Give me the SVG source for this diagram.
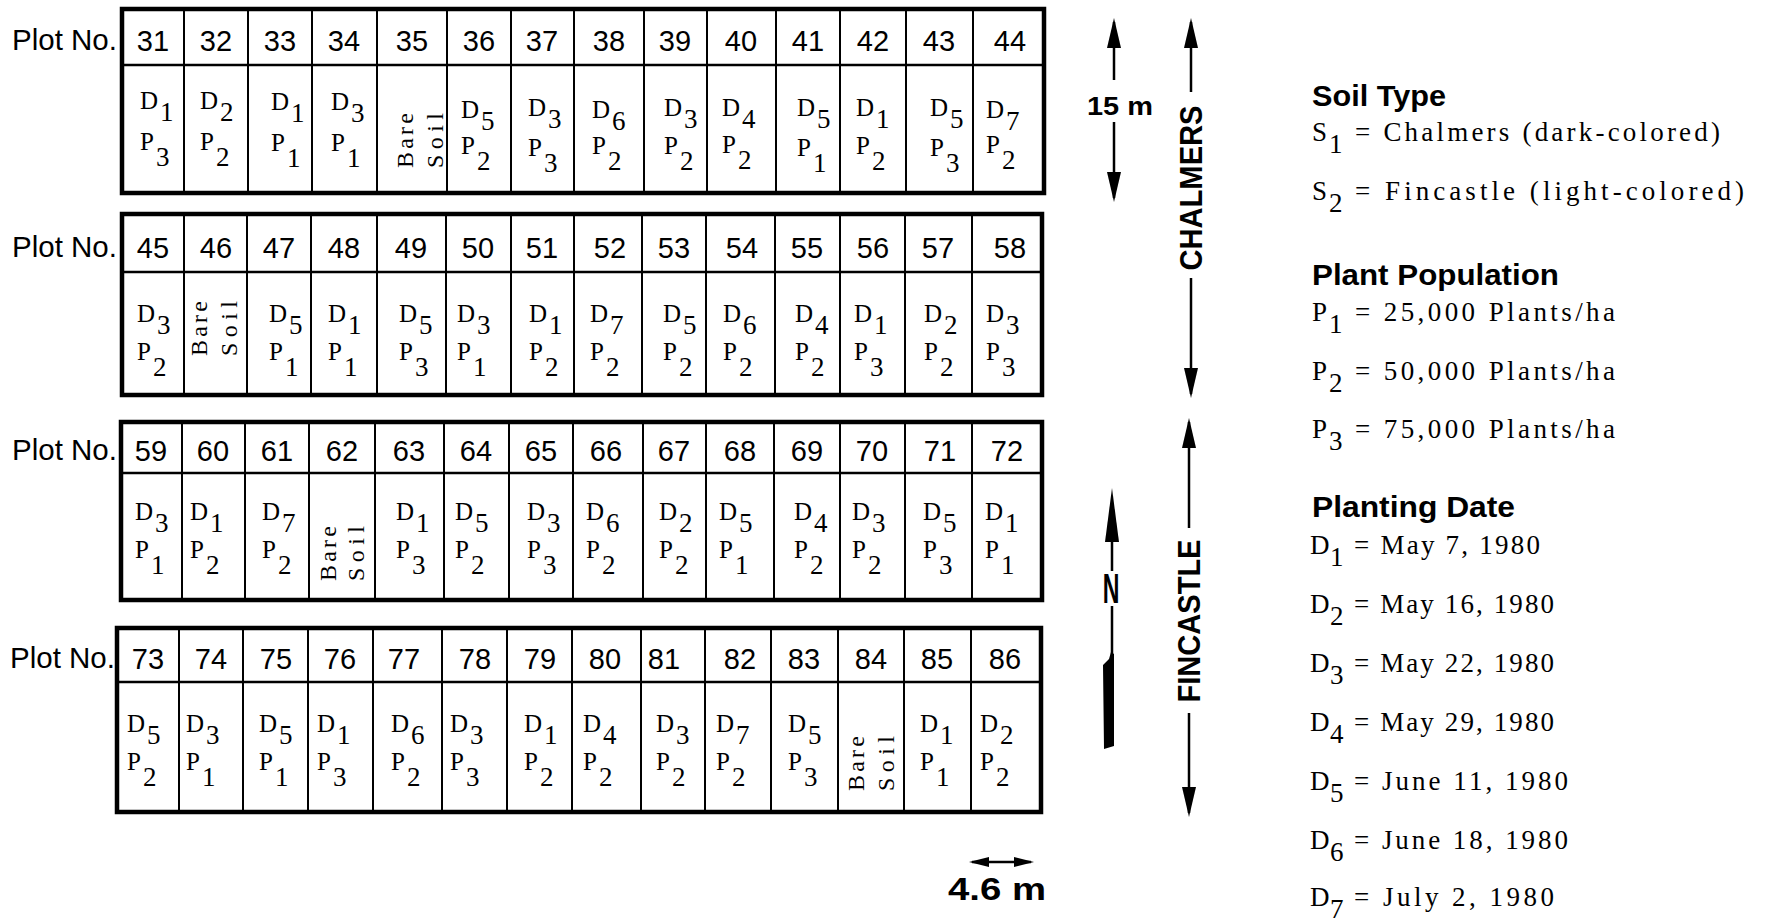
<svg xmlns="http://www.w3.org/2000/svg" width="1765" height="921" viewBox="0 0 1765 921">
<style>
.frame{fill:none;stroke:#000;stroke-width:4.5}
.hdiv{stroke:#000;stroke-width:2.5}
.vdiv{stroke:#000;stroke-width:2}
.num{font-family:"Liberation Sans",Arial,sans-serif;font-size:29px;text-anchor:middle;fill:#000}
.lbl{font-family:"Liberation Sans",Arial,sans-serif;font-size:29px;fill:#000}
.ct{font-family:"Liberation Serif","Times New Roman",serif;font-size:25px;fill:#000}
.sb{font-size:27px}
.bs{font-family:"Liberation Serif","Times New Roman",serif;font-size:24px;fill:#000}
.leg{font-family:"Liberation Serif","Times New Roman",serif;font-size:27px;fill:#000}
.head{font-family:"Liberation Sans",Arial,sans-serif;font-weight:bold;font-size:29px;fill:#000}
.dim{font-family:"Liberation Sans",Arial,sans-serif;font-weight:bold;fill:#000}
.arr{stroke:#000;stroke-width:2.5;fill:none}
</style>
<defs>
<marker id="ah" viewBox="0 -7 30 14" refX="26" refY="0" markerWidth="30" markerHeight="14" markerUnits="userSpaceOnUse" orient="auto-start-reverse"><path d="M0,-7 L30,0 L0,7 Z" fill="#000"/></marker>
<marker id="ahs" viewBox="0 -5 20 10" refX="17" refY="0" markerWidth="20" markerHeight="10" markerUnits="userSpaceOnUse" orient="auto-start-reverse"><path d="M0,-5 L20,0 L0,5 Z" fill="#000"/></marker>
</defs>
<rect width="1765" height="921" fill="#fff"/>

<g id="labels">
<text class="lbl" x="12" y="50" textLength="105" lengthAdjust="spacingAndGlyphs">Plot No.</text>
<text class="lbl" x="12" y="257" textLength="105" lengthAdjust="spacingAndGlyphs">Plot No.</text>
<text class="lbl" x="12" y="460" textLength="105" lengthAdjust="spacingAndGlyphs">Plot No.</text>
<text class="lbl" x="10" y="668" textLength="105" lengthAdjust="spacingAndGlyphs">Plot No.</text>
</g>

<g id="row-1">
<rect class="frame" x="122" y="9" width="922" height="184"/>
<line class="hdiv" x1="122" y1="65" x2="1044" y2="65"/>
<path class="vdiv" d="M184,9V193M248,9V193M312,9V193M377,9V193M447,9V193M511,9V193M574,9V193M644,9V193M707,9V193M776,9V193M840,9V193M906,9V193M973,9V193"/>
</g>
<g id="row-2">
<rect class="frame" x="122" y="214" width="920" height="181"/>
<line class="hdiv" x1="122" y1="272" x2="1042" y2="272"/>
<path class="vdiv" d="M184,214V395M247,214V395M311,214V395M377,214V395M446,214V395M511,214V395M574,214V395M642,214V395M706,214V395M775,214V395M840,214V395M905,214V395M972,214V395"/>
</g>
<g id="row-3">
<rect class="frame" x="121" y="422" width="921" height="178"/>
<line class="hdiv" x1="121" y1="473" x2="1042" y2="473"/>
<path class="vdiv" d="M182,422V600M245,422V600M309,422V600M375,422V600M444,422V600M509,422V600M573,422V600M643,422V600M706,422V600M774,422V600M840,422V600M905,422V600M972,422V600"/>
</g>
<g id="row-4">
<rect class="frame" x="117" y="628" width="924" height="184"/>
<line class="hdiv" x1="117" y1="682" x2="1041" y2="682"/>
<path class="vdiv" d="M179,628V812M243,628V812M308,628V812M373,628V812M442,628V812M507,628V812M572,628V812M641,628V812M705,628V812M771,628V812M838,628V812M904,628V812M971,628V812"/>
</g>

<!-- Row 1 plots -->
<g id="plot-31"><text class="num" x="153" y="51">31</text><text class="ct" x="140" y="109">D<tspan class="sb" dx="2" dy="12">1</tspan></text><text class="ct" x="140" y="150">P<tspan class="sb" dx="2" dy="16">3</tspan></text></g>
<g id="plot-32"><text class="num" x="216" y="51">32</text><text class="ct" x="200" y="109">D<tspan class="sb" dx="2" dy="12">2</tspan></text><text class="ct" x="200" y="150">P<tspan class="sb" dx="2" dy="16">2</tspan></text></g>
<g id="plot-33"><text class="num" x="280" y="51">33</text><text class="ct" x="271" y="110">D<tspan class="sb" dx="2" dy="12">1</tspan></text><text class="ct" x="271" y="151">P<tspan class="sb" dx="2" dy="16">1</tspan></text></g>
<g id="plot-34"><text class="num" x="344" y="51">34</text><text class="ct" x="331" y="110">D<tspan class="sb" dx="2" dy="12">3</tspan></text><text class="ct" x="331" y="151">P<tspan class="sb" dx="2" dy="16">1</tspan></text></g>
<g id="plot-35"><text class="num" x="412" y="51">35</text><text class="bs" x="413" y="168" textLength="55" transform="rotate(-90 413 168)">Bare</text><text class="bs" x="443" y="168" textLength="55" transform="rotate(-90 443 168)">Soil</text></g>
<g id="plot-36"><text class="num" x="479" y="51">36</text><text class="ct" x="461" y="118">D<tspan class="sb" dx="2" dy="12">5</tspan></text><text class="ct" x="461" y="154">P<tspan class="sb" dx="2" dy="16">2</tspan></text></g>
<g id="plot-37"><text class="num" x="542" y="51">37</text><text class="ct" x="528" y="116">D<tspan class="sb" dx="2" dy="12">3</tspan></text><text class="ct" x="528" y="156">P<tspan class="sb" dx="2" dy="16">3</tspan></text></g>
<g id="plot-38"><text class="num" x="609" y="51">38</text><text class="ct" x="592" y="118">D<tspan class="sb" dx="2" dy="12">6</tspan></text><text class="ct" x="592" y="154">P<tspan class="sb" dx="2" dy="16">2</tspan></text></g>
<g id="plot-39"><text class="num" x="675" y="51">39</text><text class="ct" x="664" y="116">D<tspan class="sb" dx="2" dy="12">3</tspan></text><text class="ct" x="664" y="154">P<tspan class="sb" dx="2" dy="16">2</tspan></text></g>
<g id="plot-40"><text class="num" x="741" y="51">40</text><text class="ct" x="722" y="116">D<tspan class="sb" dx="2" dy="12">4</tspan></text><text class="ct" x="722" y="153">P<tspan class="sb" dx="2" dy="16">2</tspan></text></g>
<g id="plot-41"><text class="num" x="808" y="51">41</text><text class="ct" x="797" y="116">D<tspan class="sb" dx="2" dy="12">5</tspan></text><text class="ct" x="797" y="156">P<tspan class="sb" dx="2" dy="16">1</tspan></text></g>
<g id="plot-42"><text class="num" x="873" y="51">42</text><text class="ct" x="856" y="116">D<tspan class="sb" dx="2" dy="12">1</tspan></text><text class="ct" x="856" y="154">P<tspan class="sb" dx="2" dy="16">2</tspan></text></g>
<g id="plot-43"><text class="num" x="939" y="51">43</text><text class="ct" x="930" y="116">D<tspan class="sb" dx="2" dy="12">5</tspan></text><text class="ct" x="930" y="156">P<tspan class="sb" dx="2" dy="16">3</tspan></text></g>
<g id="plot-44"><text class="num" x="1010" y="51">44</text><text class="ct" x="986" y="118">D<tspan class="sb" dx="2" dy="12">7</tspan></text><text class="ct" x="986" y="153">P<tspan class="sb" dx="2" dy="16">2</tspan></text></g>

<!-- Row 2 plots -->
<g id="plot-45"><text class="num" x="153" y="258">45</text><text class="ct" x="137" y="322">D<tspan class="sb" dx="2" dy="12">3</tspan></text><text class="ct" x="137" y="360">P<tspan class="sb" dx="2" dy="16">2</tspan></text></g>
<g id="plot-46"><text class="num" x="216" y="258">46</text><text class="bs" x="207" y="356" textLength="55" transform="rotate(-90 207 356)">Bare</text><text class="bs" x="237" y="356" textLength="55" transform="rotate(-90 237 356)">Soil</text></g>
<g id="plot-47"><text class="num" x="279" y="258">47</text><text class="ct" x="269" y="322">D<tspan class="sb" dx="2" dy="12">5</tspan></text><text class="ct" x="269" y="360">P<tspan class="sb" dx="2" dy="16">1</tspan></text></g>
<g id="plot-48"><text class="num" x="344" y="258">48</text><text class="ct" x="328" y="322">D<tspan class="sb" dx="2" dy="12">1</tspan></text><text class="ct" x="328" y="360">P<tspan class="sb" dx="2" dy="16">1</tspan></text></g>
<g id="plot-49"><text class="num" x="411" y="258">49</text><text class="ct" x="399" y="322">D<tspan class="sb" dx="2" dy="12">5</tspan></text><text class="ct" x="399" y="360">P<tspan class="sb" dx="2" dy="16">3</tspan></text></g>
<g id="plot-50"><text class="num" x="478" y="258">50</text><text class="ct" x="457" y="322">D<tspan class="sb" dx="2" dy="12">3</tspan></text><text class="ct" x="457" y="360">P<tspan class="sb" dx="2" dy="16">1</tspan></text></g>
<g id="plot-51"><text class="num" x="542" y="258">51</text><text class="ct" x="529" y="322">D<tspan class="sb" dx="2" dy="12">1</tspan></text><text class="ct" x="529" y="360">P<tspan class="sb" dx="2" dy="16">2</tspan></text></g>
<g id="plot-52"><text class="num" x="610" y="258">52</text><text class="ct" x="590" y="322">D<tspan class="sb" dx="2" dy="12">7</tspan></text><text class="ct" x="590" y="360">P<tspan class="sb" dx="2" dy="16">2</tspan></text></g>
<g id="plot-53"><text class="num" x="674" y="258">53</text><text class="ct" x="663" y="322">D<tspan class="sb" dx="2" dy="12">5</tspan></text><text class="ct" x="663" y="360">P<tspan class="sb" dx="2" dy="16">2</tspan></text></g>
<g id="plot-54"><text class="num" x="742" y="258">54</text><text class="ct" x="723" y="322">D<tspan class="sb" dx="2" dy="12">6</tspan></text><text class="ct" x="723" y="360">P<tspan class="sb" dx="2" dy="16">2</tspan></text></g>
<g id="plot-55"><text class="num" x="807" y="258">55</text><text class="ct" x="795" y="322">D<tspan class="sb" dx="2" dy="12">4</tspan></text><text class="ct" x="795" y="360">P<tspan class="sb" dx="2" dy="16">2</tspan></text></g>
<g id="plot-56"><text class="num" x="873" y="258">56</text><text class="ct" x="854" y="322">D<tspan class="sb" dx="2" dy="12">1</tspan></text><text class="ct" x="854" y="360">P<tspan class="sb" dx="2" dy="16">3</tspan></text></g>
<g id="plot-57"><text class="num" x="938" y="258">57</text><text class="ct" x="924" y="322">D<tspan class="sb" dx="2" dy="12">2</tspan></text><text class="ct" x="924" y="360">P<tspan class="sb" dx="2" dy="16">2</tspan></text></g>
<g id="plot-58"><text class="num" x="1010" y="258">58</text><text class="ct" x="986" y="322">D<tspan class="sb" dx="2" dy="12">3</tspan></text><text class="ct" x="986" y="360">P<tspan class="sb" dx="2" dy="16">3</tspan></text></g>

<!-- Row 3 plots -->
<g id="plot-59"><text class="num" x="151" y="461">59</text><text class="ct" x="135" y="520">D<tspan class="sb" dx="2" dy="12">3</tspan></text><text class="ct" x="135" y="558">P<tspan class="sb" dx="2" dy="16">1</tspan></text></g>
<g id="plot-60"><text class="num" x="213" y="461">60</text><text class="ct" x="190" y="520">D<tspan class="sb" dx="2" dy="12">1</tspan></text><text class="ct" x="190" y="558">P<tspan class="sb" dx="2" dy="16">2</tspan></text></g>
<g id="plot-61"><text class="num" x="277" y="461">61</text><text class="ct" x="262" y="520">D<tspan class="sb" dx="2" dy="12">7</tspan></text><text class="ct" x="262" y="558">P<tspan class="sb" dx="2" dy="16">2</tspan></text></g>
<g id="plot-62"><text class="num" x="342" y="461">62</text><text class="bs" x="336" y="581" textLength="55" transform="rotate(-90 336 581)">Bare</text><text class="bs" x="364" y="581" textLength="55" transform="rotate(-90 364 581)">Soil</text></g>
<g id="plot-63"><text class="num" x="409" y="461">63</text><text class="ct" x="396" y="520">D<tspan class="sb" dx="2" dy="12">1</tspan></text><text class="ct" x="396" y="558">P<tspan class="sb" dx="2" dy="16">3</tspan></text></g>
<g id="plot-64"><text class="num" x="476" y="461">64</text><text class="ct" x="455" y="520">D<tspan class="sb" dx="2" dy="12">5</tspan></text><text class="ct" x="455" y="558">P<tspan class="sb" dx="2" dy="16">2</tspan></text></g>
<g id="plot-65"><text class="num" x="541" y="461">65</text><text class="ct" x="527" y="520">D<tspan class="sb" dx="2" dy="12">3</tspan></text><text class="ct" x="527" y="558">P<tspan class="sb" dx="2" dy="16">3</tspan></text></g>
<g id="plot-66"><text class="num" x="606" y="461">66</text><text class="ct" x="586" y="520">D<tspan class="sb" dx="2" dy="12">6</tspan></text><text class="ct" x="586" y="558">P<tspan class="sb" dx="2" dy="16">2</tspan></text></g>
<g id="plot-67"><text class="num" x="674" y="461">67</text><text class="ct" x="659" y="520">D<tspan class="sb" dx="2" dy="12">2</tspan></text><text class="ct" x="659" y="558">P<tspan class="sb" dx="2" dy="16">2</tspan></text></g>
<g id="plot-68"><text class="num" x="740" y="461">68</text><text class="ct" x="719" y="520">D<tspan class="sb" dx="2" dy="12">5</tspan></text><text class="ct" x="719" y="558">P<tspan class="sb" dx="2" dy="16">1</tspan></text></g>
<g id="plot-69"><text class="num" x="807" y="461">69</text><text class="ct" x="794" y="520">D<tspan class="sb" dx="2" dy="12">4</tspan></text><text class="ct" x="794" y="558">P<tspan class="sb" dx="2" dy="16">2</tspan></text></g>
<g id="plot-70"><text class="num" x="872" y="461">70</text><text class="ct" x="852" y="520">D<tspan class="sb" dx="2" dy="12">3</tspan></text><text class="ct" x="852" y="558">P<tspan class="sb" dx="2" dy="16">2</tspan></text></g>
<g id="plot-71"><text class="num" x="940" y="461">71</text><text class="ct" x="923" y="520">D<tspan class="sb" dx="2" dy="12">5</tspan></text><text class="ct" x="923" y="558">P<tspan class="sb" dx="2" dy="16">3</tspan></text></g>
<g id="plot-72"><text class="num" x="1007" y="461">72</text><text class="ct" x="985" y="520">D<tspan class="sb" dx="2" dy="12">1</tspan></text><text class="ct" x="985" y="558">P<tspan class="sb" dx="2" dy="16">1</tspan></text></g>

<!-- Row 4 plots -->
<g id="plot-73"><text class="num" x="148" y="669">73</text><text class="ct" x="127" y="732">D<tspan class="sb" dx="2" dy="12">5</tspan></text><text class="ct" x="127" y="770">P<tspan class="sb" dx="2" dy="16">2</tspan></text></g>
<g id="plot-74"><text class="num" x="211" y="669">74</text><text class="ct" x="186" y="732">D<tspan class="sb" dx="2" dy="12">3</tspan></text><text class="ct" x="186" y="770">P<tspan class="sb" dx="2" dy="16">1</tspan></text></g>
<g id="plot-75"><text class="num" x="276" y="669">75</text><text class="ct" x="259" y="732">D<tspan class="sb" dx="2" dy="12">5</tspan></text><text class="ct" x="259" y="770">P<tspan class="sb" dx="2" dy="16">1</tspan></text></g>
<g id="plot-76"><text class="num" x="340" y="669">76</text><text class="ct" x="317" y="732">D<tspan class="sb" dx="2" dy="12">1</tspan></text><text class="ct" x="317" y="770">P<tspan class="sb" dx="2" dy="16">3</tspan></text></g>
<g id="plot-77"><text class="num" x="404" y="669">77</text><text class="ct" x="391" y="732">D<tspan class="sb" dx="2" dy="12">6</tspan></text><text class="ct" x="391" y="770">P<tspan class="sb" dx="2" dy="16">2</tspan></text></g>
<g id="plot-78"><text class="num" x="475" y="669">78</text><text class="ct" x="450" y="732">D<tspan class="sb" dx="2" dy="12">3</tspan></text><text class="ct" x="450" y="770">P<tspan class="sb" dx="2" dy="16">3</tspan></text></g>
<g id="plot-79"><text class="num" x="540" y="669">79</text><text class="ct" x="524" y="732">D<tspan class="sb" dx="2" dy="12">1</tspan></text><text class="ct" x="524" y="770">P<tspan class="sb" dx="2" dy="16">2</tspan></text></g>
<g id="plot-80"><text class="num" x="605" y="669">80</text><text class="ct" x="583" y="732">D<tspan class="sb" dx="2" dy="12">4</tspan></text><text class="ct" x="583" y="770">P<tspan class="sb" dx="2" dy="16">2</tspan></text></g>
<g id="plot-81"><text class="num" x="664" y="669">81</text><text class="ct" x="656" y="732">D<tspan class="sb" dx="2" dy="12">3</tspan></text><text class="ct" x="656" y="770">P<tspan class="sb" dx="2" dy="16">2</tspan></text></g>
<g id="plot-82"><text class="num" x="740" y="669">82</text><text class="ct" x="716" y="732">D<tspan class="sb" dx="2" dy="12">7</tspan></text><text class="ct" x="716" y="770">P<tspan class="sb" dx="2" dy="16">2</tspan></text></g>
<g id="plot-83"><text class="num" x="804" y="669">83</text><text class="ct" x="788" y="732">D<tspan class="sb" dx="2" dy="12">5</tspan></text><text class="ct" x="788" y="770">P<tspan class="sb" dx="2" dy="16">3</tspan></text></g>
<g id="plot-84"><text class="num" x="871" y="669">84</text><text class="bs" x="864" y="791" textLength="55" transform="rotate(-90 864 791)">Bare</text><text class="bs" x="894" y="791" textLength="55" transform="rotate(-90 894 791)">Soil</text></g>
<g id="plot-85"><text class="num" x="937" y="669">85</text><text class="ct" x="920" y="732">D<tspan class="sb" dx="2" dy="12">1</tspan></text><text class="ct" x="920" y="770">P<tspan class="sb" dx="2" dy="16">1</tspan></text></g>
<g id="plot-86"><text class="num" x="1005" y="669">86</text><text class="ct" x="980" y="732">D<tspan class="sb" dx="2" dy="12">2</tspan></text><text class="ct" x="980" y="770">P<tspan class="sb" dx="2" dy="16">2</tspan></text></g>

<g id="connectors">
<path class="arr" d="M1114,80V22" marker-end="url(#ah)"/>
<path class="arr" d="M1114,122V198" marker-end="url(#ah)"/>
<path class="arr" d="M1191,92V22" marker-end="url(#ah)"/>
<path class="arr" d="M1191,278V394" marker-end="url(#ah)"/>
<path class="arr" d="M1189,528V422" marker-end="url(#ah)"/>
<path class="arr" d="M1189,713V813" marker-end="url(#ah)"/>
<path class="arr" d="M972,862H1031" marker-start="url(#ahs)" marker-end="url(#ahs)"/>
</g>
<g id="dim-15m"><text class="dim" x="1120" y="115" font-size="25" text-anchor="middle" textLength="66" lengthAdjust="spacingAndGlyphs">15 m</text></g>
<g id="dim-46m"><text class="dim" x="997" y="900" font-size="31" text-anchor="middle" textLength="98" lengthAdjust="spacingAndGlyphs">4.6 m</text></g>
<g id="soil-chalmers"><text class="dim" x="1202" y="188" font-size="32" text-anchor="middle" textLength="165" lengthAdjust="spacingAndGlyphs" transform="rotate(-90 1202 188)">CHALMERS</text></g>
<g id="soil-fincastle"><text class="dim" x="1200" y="621" font-size="32" text-anchor="middle" textLength="163" lengthAdjust="spacingAndGlyphs" transform="rotate(-90 1200 621)">FINCASTLE</text></g>

<g id="north">
<polygon points="1112,488 1119,542 1105,542" fill="#000"/>
<path class="arr" d="M1112,540V571M1112,606V656"/>
<text class="dim" font-size="42" text-anchor="middle" transform="translate(1111 603) scale(0.55 1)">N</text>
<polygon points="1111,652 1114,654 1114,746 1104,749 1103,665 1109,659" fill="#000"/>
</g>

<g id="legend-soil">
<text class="head" x="1312" y="106" textLength="134" lengthAdjust="spacingAndGlyphs">Soil Type</text>
<text class="leg" x="1312" y="141">S</text><text class="leg" x="1329" y="153">1</text><text class="leg" x="1355" y="141" textLength="365">= Chalmers (dark-colored)</text>
<text class="leg" x="1312" y="200">S</text><text class="leg" x="1329" y="212">2</text><text class="leg" x="1355" y="200" textLength="389">= Fincastle (light-colored)</text>
</g>
<g id="legend-population">
<text class="head" x="1312" y="285" textLength="247" lengthAdjust="spacingAndGlyphs">Plant Population</text>
<text class="leg" x="1312" y="321">P</text><text class="leg" x="1329" y="333">1</text><text class="leg" x="1355" y="321" textLength="260">= 25,000 Plants/ha</text>
<text class="leg" x="1312" y="380">P</text><text class="leg" x="1329" y="392">2</text><text class="leg" x="1355" y="380" textLength="260">= 50,000 Plants/ha</text>
<text class="leg" x="1312" y="438">P</text><text class="leg" x="1329" y="450">3</text><text class="leg" x="1355" y="438" textLength="260">= 75,000 Plants/ha</text>
</g>
<g id="legend-date">
<text class="head" x="1312" y="517" textLength="203" lengthAdjust="spacingAndGlyphs">Planting  Date</text>
<text class="leg" x="1310" y="554">D</text><text class="leg" x="1330" y="566">1</text><text class="leg" x="1354" y="554" textLength="186">= May 7, 1980</text>
<text class="leg" x="1310" y="613">D</text><text class="leg" x="1330" y="625">2</text><text class="leg" x="1354" y="613" textLength="200">= May 16, 1980</text>
<text class="leg" x="1310" y="672">D</text><text class="leg" x="1330" y="684">3</text><text class="leg" x="1354" y="672" textLength="200">= May 22, 1980</text>
<text class="leg" x="1310" y="731">D</text><text class="leg" x="1330" y="743">4</text><text class="leg" x="1354" y="731" textLength="200">= May 29, 1980</text>
<text class="leg" x="1310" y="790">D</text><text class="leg" x="1330" y="802">5</text><text class="leg" x="1354" y="790" textLength="214">= June 11, 1980</text>
<text class="leg" x="1310" y="849">D</text><text class="leg" x="1330" y="861">6</text><text class="leg" x="1354" y="849" textLength="214">= June 18, 1980</text>
<text class="leg" x="1310" y="906">D</text><text class="leg" x="1330" y="918">7</text><text class="leg" x="1354" y="906" textLength="200">= July 2, 1980</text>
</g>
</svg>
